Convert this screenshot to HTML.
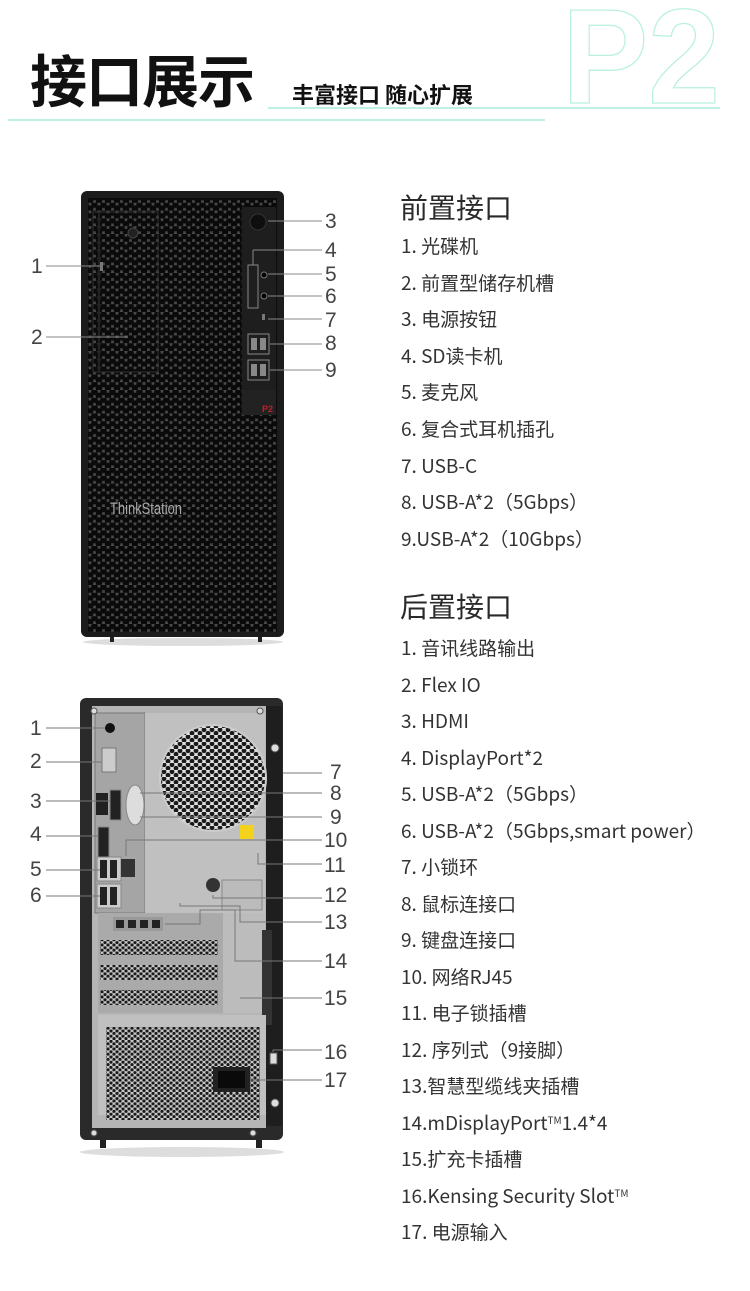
<!DOCTYPE html>
<html><head><meta charset="utf-8">
<style>
html,body{margin:0;padding:0;background:#fff;}
body{width:750px;height:1291px;position:relative;overflow:hidden;font-family:"Noto Sans CJK SC","Liberation Sans",sans-serif;}
.t{position:absolute;white-space:nowrap;color:#333;}
.h{font-size:28px;color:#2a2a2a;line-height:34px;height:34px;}
.i{font-size:19px;color:#333;line-height:22px;height:22px;}
.n{position:absolute;font-size:21px;color:#444;font-family:"Liberation Sans",sans-serif;line-height:1;}
sup{font-size:10px;line-height:0;vertical-align:6px;}
</style></head><body>
<svg style="position:absolute;left:0;top:0" width="750" height="130">
<text x="562" y="103" font-family="Liberation Sans,sans-serif" font-size="135" font-weight="bold" fill="none" stroke="#b8f0e0" stroke-width="1.3" textLength="158" lengthAdjust="spacingAndGlyphs">P2</text>
<line x1="268" y1="108" x2="720" y2="108" stroke="#a8ecdc" stroke-width="1.5"/>
<line x1="8" y1="120" x2="545" y2="120" stroke="#a8ecdc" stroke-width="1.5"/>
</svg>
<div class="t" style="left:30px;top:50px;font-size:57px;font-weight:bold;color:#111;font-family:'Noto Sans CJK SC',sans-serif;line-height:1;letter-spacing:-1px">接口展示</div>
<div class="t" style="left:292px;top:83px;font-size:22px;font-weight:bold;color:#111;font-family:'Noto Sans CJK SC',sans-serif;line-height:1;">丰富接口 随心扩展</div>

<svg style="position:absolute;left:0;top:0" width="750" height="1291">
<defs>
<pattern id="hex" width="9" height="7.8" patternUnits="userSpaceOnUse">
<rect width="9" height="7.8" fill="#4a4a4a"/>
<circle cx="4.5" cy="1.95" r="3.3" fill="#0a0a0a"/>
<circle cx="0" cy="5.85" r="3.3" fill="#0a0a0a"/>
<circle cx="9" cy="5.85" r="3.3" fill="#0a0a0a"/>
</pattern>
<pattern id="perf" width="6" height="5.2" patternUnits="userSpaceOnUse">
<rect width="6" height="5.2" fill="#c8c8c8"/>
<circle cx="3" cy="1.3" r="1.6" fill="#1a1a1a"/>
<circle cx="0" cy="3.9" r="1.6" fill="#1a1a1a"/>
<circle cx="6" cy="3.9" r="1.6" fill="#1a1a1a"/>
</pattern>
<pattern id="fan" width="8" height="7" patternUnits="userSpaceOnUse">
<rect width="8" height="7" fill="#e0e0e0"/>
<circle cx="4" cy="1.75" r="2.4" fill="#1a1a1a"/>
<circle cx="0" cy="5.25" r="2.4" fill="#1a1a1a"/>
<circle cx="8" cy="5.25" r="2.4" fill="#1a1a1a"/>
</pattern>
</defs>

<!-- FRONT TOWER -->
<ellipse cx="183" cy="642" rx="100" ry="4" fill="#ddd"/>
<rect x="110" y="634" width="4" height="8" fill="#222"/><rect x="258" y="634" width="4" height="8" fill="#222"/>
<rect x="81" y="191" width="203" height="446" rx="6" fill="#1c1c1c"/>
<rect x="88" y="198" width="189" height="434" fill="url(#hex)"/>
<rect x="93" y="212" width="65" height="160" fill="none" stroke="#333" stroke-width="1"/>
<rect x="98" y="212" width="2" height="160" fill="#222"/>
<circle cx="133" cy="233" r="5" fill="#222" stroke="#444"/>
<rect x="100" y="262" width="3" height="9" fill="#777"/>
<rect x="242" y="207" width="34" height="208" fill="#1e1e1e"/>
<rect x="242" y="390" width="34" height="25" fill="#222"/>
<circle cx="258" cy="222" r="8" fill="#0e0e0e" stroke="#333"/>
<rect x="248" y="265" width="10" height="43" fill="none" stroke="#888" stroke-width="1"/>
<circle cx="264" cy="275" r="3" fill="#000" stroke="#777"/>
<circle cx="264" cy="296" r="3" fill="#000" stroke="#777"/>
<rect x="262" y="314" width="3" height="6" fill="#777"/>
<rect x="248" y="334" width="21" height="20" fill="none" stroke="#888"/>
<rect x="251" y="338" width="6" height="12" fill="#888"/><rect x="260" y="338" width="6" height="12" fill="#888"/>
<rect x="248" y="360" width="21" height="20" fill="none" stroke="#888"/>
<rect x="251" y="364" width="6" height="12" fill="#888"/><rect x="260" y="364" width="6" height="12" fill="#888"/>
<text x="262" y="412" font-size="9" fill="#c0202a" font-weight="bold" font-family="Liberation Sans">P2</text>
<text x="110" y="514" font-size="17" fill="#aaa" font-family="Liberation Sans" textLength="72" lengthAdjust="spacingAndGlyphs">ThinkStation</text>
<g stroke="#888" stroke-width="1">
<line x1="46" y1="266" x2="100" y2="266"/><line x1="46" y1="337" x2="128" y2="337"/>
<line x1="268" y1="221" x2="322" y2="221"/>
<line x1="253" y1="250" x2="322" y2="250"/><line x1="253" y1="250" x2="253" y2="265"/>
<line x1="268" y1="274" x2="322" y2="274"/>
<line x1="268" y1="296" x2="322" y2="296"/>
<line x1="268" y1="319" x2="322" y2="319"/>
<line x1="270" y1="344" x2="322" y2="344"/>
<line x1="270" y1="370" x2="322" y2="370"/>
</g>

<!-- REAR TOWER -->
<ellipse cx="182" cy="1152" rx="102" ry="5" fill="#ddd"/>
<rect x="100" y="1138" width="6" height="10" fill="#222"/><rect x="256" y="1138" width="6" height="10" fill="#222"/>
<rect x="80" y="698" width="203" height="442" rx="6" fill="#2a2a2a"/>
<rect x="92" y="706" width="174" height="422" fill="#b5b5b5"/>
<rect x="266" y="706" width="16" height="420" fill="#1e1e1e"/>
<rect x="95" y="713" width="50" height="200" fill="#a5a5a5" stroke="#777"/>
<rect x="145" y="713" width="120" height="200" fill="#c0c0c0"/>
<circle cx="213" cy="778" r="53" fill="url(#fan)" stroke="#ccc" stroke-width="2"/>
<circle cx="110" cy="728" r="5" fill="#111"/>
<rect x="102" y="748" width="14" height="24" fill="#ccc" stroke="#777"/>
<rect x="96" y="793" width="12" height="22" fill="#222"/>
<rect x="110" y="790" width="11" height="30" fill="#222" stroke="#888"/>
<rect x="98" y="827" width="11" height="30" fill="#222" stroke="#888"/>
<ellipse cx="135" cy="805" rx="9" ry="20" fill="#ddd" stroke="#888"/>
<rect x="97" y="857" width="24" height="24" fill="#ccc" stroke="#888"/>
<rect x="100" y="860" width="7" height="18" fill="#222"/><rect x="110" y="860" width="7" height="18" fill="#222"/>
<rect x="121" y="859" width="14" height="18" fill="#333"/>
<rect x="97" y="884" width="24" height="24" fill="#ccc" stroke="#888"/>
<rect x="100" y="887" width="7" height="18" fill="#222"/><rect x="110" y="887" width="7" height="18" fill="#222"/>
<rect x="240" y="825" width="14" height="14" fill="#f2d21b"/>
<rect x="222" y="880" width="40" height="30" fill="#bbb" stroke="#888"/>
<circle cx="213" cy="885" r="7" fill="#333"/>
<rect x="98" y="913" width="125" height="100" fill="#aaa"/>
<rect x="113" y="917" width="50" height="14" fill="#999"/>
<rect x="116" y="920" width="8" height="8" fill="#222"/><rect x="128" y="920" width="8" height="8" fill="#222"/><rect x="140" y="920" width="8" height="8" fill="#222"/><rect x="152" y="920" width="8" height="8" fill="#222"/>
<rect x="100" y="940" width="118" height="15" fill="url(#perf)"/>
<rect x="100" y="965" width="118" height="15" fill="url(#perf)"/>
<rect x="100" y="990" width="118" height="15" fill="url(#perf)"/>
<rect x="223" y="913" width="42" height="100" fill="#bcbcbc"/>
<rect x="262" y="930" width="10" height="95" fill="#333"/>
<rect x="98" y="1015" width="168" height="100" fill="#c0c0c0"/>
<rect x="106" y="1027" width="154" height="93" fill="url(#perf)"/>
<rect x="213" y="1067" width="37" height="25" fill="#222"/>
<rect x="218" y="1071" width="27" height="17" fill="#0a0a0a"/>
<rect x="270" y="1053" width="7" height="11" fill="#ddd" stroke="#555"/>
<g fill="#ddd" stroke="#555"><circle cx="94" cy="711" r="3"/><circle cx="260" cy="711" r="3"/><circle cx="275" cy="748" r="4"/><circle cx="275" cy="1103" r="4"/><circle cx="94" cy="1133" r="3"/><circle cx="253" cy="1133" r="3"/></g>
<g stroke="#777" stroke-width="1" fill="none">
<line x1="46" y1="728" x2="105" y2="728"/>
<line x1="46" y1="762" x2="102" y2="762"/>
<line x1="46" y1="801" x2="110" y2="801"/>
<line x1="46" y1="836" x2="98" y2="836"/>
<line x1="46" y1="870" x2="100" y2="870"/>
<line x1="46" y1="896" x2="100" y2="896"/>
<line x1="283" y1="773" x2="322" y2="773"/>
<line x1="140" y1="793" x2="322" y2="793"/>
<line x1="140" y1="817" x2="322" y2="817"/>
<polyline points="126,856 126,840 322,840"/>
<polyline points="258,853 258,864 322,864"/>
<polyline points="213,895 213,898 322,898"/>
<polyline points="180,903 180,906 240,906 240,922 322,922"/>
<polyline points="165,924 200,924 200,910 235,910 235,961 322,961"/>
<line x1="240" y1="998" x2="322" y2="998"/>
<polyline points="273,1052 273,1050 322,1050"/>
<line x1="250" y1="1080" x2="322" y2="1080"/>
</g>
</svg>

<div class="n" style="left:31px;top:256px">1</div>
<div class="n" style="left:31px;top:327px">2</div>
<div class="n" style="left:325px;top:211px">3</div>
<div class="n" style="left:325px;top:240px">4</div>
<div class="n" style="left:325px;top:264px">5</div>
<div class="n" style="left:325px;top:286px">6</div>
<div class="n" style="left:325px;top:310px">7</div>
<div class="n" style="left:325px;top:333px">8</div>
<div class="n" style="left:325px;top:360px">9</div>

<div class="n" style="left:30px;top:718px">1</div>
<div class="n" style="left:30px;top:751px">2</div>
<div class="n" style="left:30px;top:791px">3</div>
<div class="n" style="left:30px;top:824px">4</div>
<div class="n" style="left:30px;top:859px">5</div>
<div class="n" style="left:30px;top:885px">6</div>
<div class="n" style="left:330px;top:762px">7</div>
<div class="n" style="left:330px;top:783px">8</div>
<div class="n" style="left:330px;top:807px">9</div>
<div class="n" style="left:324px;top:830px">10</div>
<div class="n" style="left:324px;top:855px">11</div>
<div class="n" style="left:324px;top:885px">12</div>
<div class="n" style="left:324px;top:912px">13</div>
<div class="n" style="left:324px;top:951px">14</div>
<div class="n" style="left:324px;top:988px">15</div>
<div class="n" style="left:324px;top:1042px">16</div>
<div class="n" style="left:324px;top:1070px">17</div>

<div class="t h" style="left:400px;top:190px">前置接口</div>
<div class="t i" style="left:401px;top:235px">1. 光碟机</div>
<div class="t i" style="left:401px;top:272px">2. 前置型储存机槽</div>
<div class="t i" style="left:401px;top:308px">3. 电源按钮</div>
<div class="t i" style="left:401px;top:345px">4. SD读卡机</div>
<div class="t i" style="left:401px;top:381px">5. 麦克风</div>
<div class="t i" style="left:401px;top:418px">6. 复合式耳机插孔</div>
<div class="t i" style="left:401px;top:455px">7. USB-C</div>
<div class="t i" style="left:401px;top:491px">8. USB-A*2（5Gbps）</div>
<div class="t i" style="left:401px;top:528px">9.USB-A*2（10Gbps）</div>

<div class="t h" style="left:400px;top:589px">后置接口</div>
<div class="t i" style="left:401px;top:637px">1. 音讯线路输出</div>
<div class="t i" style="left:401px;top:674px">2. Flex IO</div>
<div class="t i" style="left:401px;top:710px">3. HDMI</div>
<div class="t i" style="left:401px;top:747px">4. DisplayPort*2</div>
<div class="t i" style="left:401px;top:783px">5. USB-A*2（5Gbps）</div>
<div class="t i" style="left:401px;top:820px">6. USB-A*2（5Gbps,smart power）</div>
<div class="t i" style="left:401px;top:856px">7. 小锁环</div>
<div class="t i" style="left:401px;top:893px">8. 鼠标连接口</div>
<div class="t i" style="left:401px;top:929px">9. 键盘连接口</div>
<div class="t i" style="left:401px;top:966px">10. 网络RJ45</div>
<div class="t i" style="left:401px;top:1002px">11. 电子锁插槽</div>
<div class="t i" style="left:401px;top:1039px">12. 序列式（9接脚）</div>
<div class="t i" style="left:401px;top:1075px">13.智慧型缆线夹插槽</div>
<div class="t i" style="left:401px;top:1112px">14.mDisplayPort<sup>TM</sup>1.4*4</div>
<div class="t i" style="left:401px;top:1148px">15.扩充卡插槽</div>
<div class="t i" style="left:401px;top:1185px">16.Kensing Security Slot<sup>TM</sup></div>
<div class="t i" style="left:401px;top:1221px">17. 电源输入</div>
</body></html>
